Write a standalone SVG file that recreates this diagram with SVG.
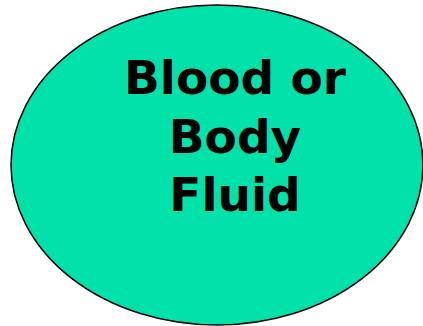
<svg xmlns="http://www.w3.org/2000/svg" width="423" height="326" viewBox="0 0 423 326">
<style>
.shape{fill:#00E2AA;stroke:#000;stroke-width:1.5}
.label{font-family:"DejaVu Sans",Verdana,sans-serif;font-weight:bold;font-size:47px;fill:#000;text-anchor:middle}
</style>
<rect width="423" height="326" fill="#fff"/>
<g id="node-blood-fluid">
<ellipse class="shape" cx="217" cy="165" rx="206" ry="160"/>
<text class="label" x="235" y="94">Blood or</text>
<text class="label" x="235" y="153">Body</text>
<text class="label" x="235" y="211">Fluid</text>
</g>
<g id="connectors"/>
</svg>
